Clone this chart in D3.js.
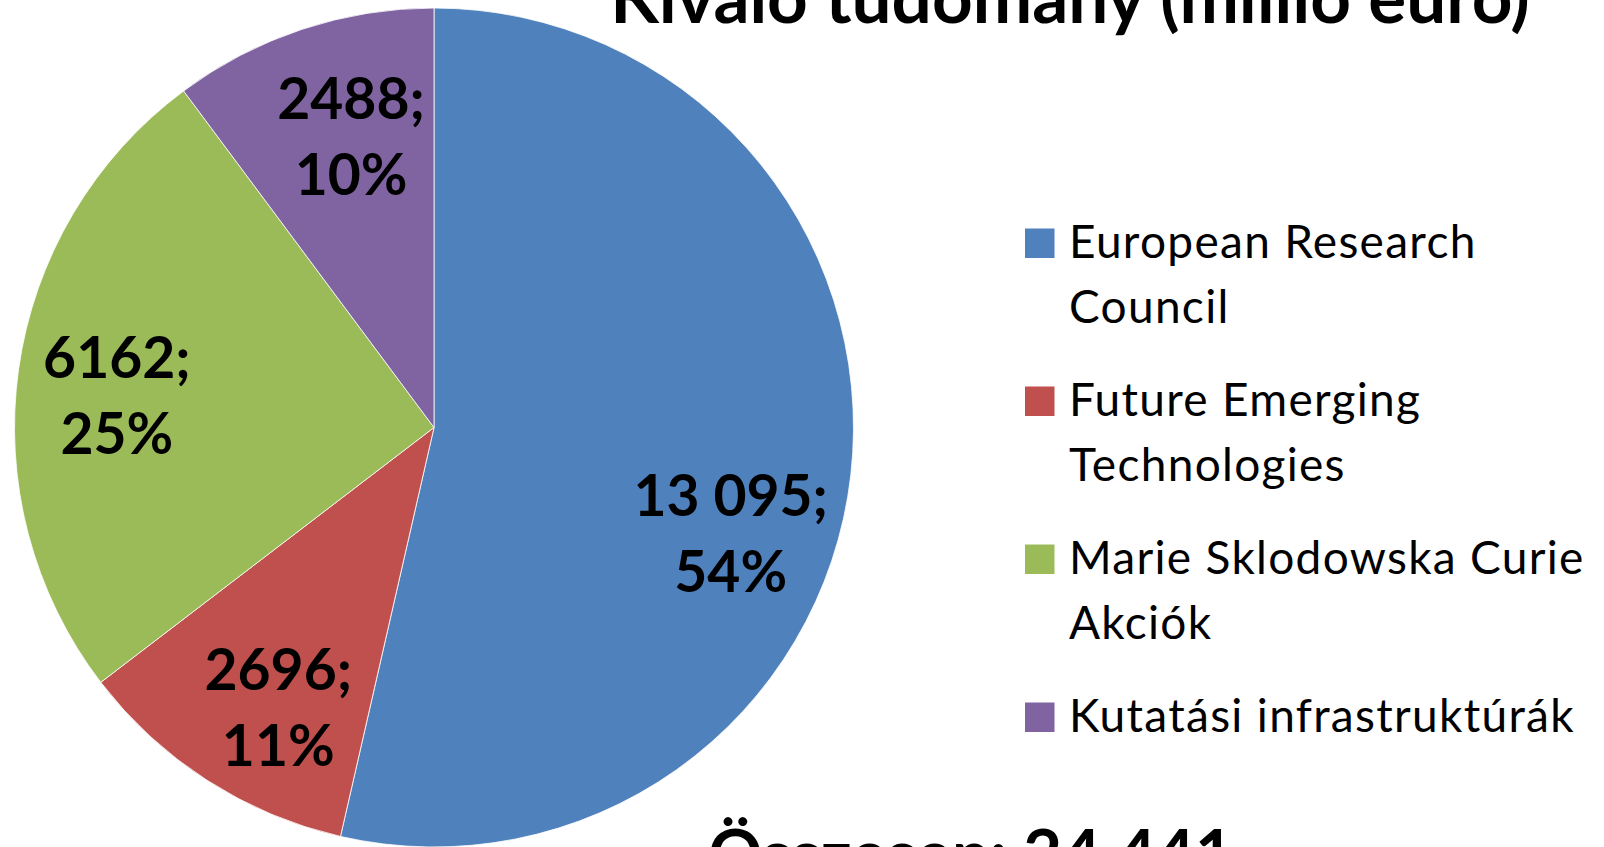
<!DOCTYPE html>
<html lang="hu">
<head>
    <meta charset="UTF-8">
    <script src="https://d3js.org/d3.v7.min.js"></script>
    <title>Kiváló tudomány</title>
    <style>
        body { margin:0; background:#fff; }
        text { font-family: Lato, "Open Sans", sans-serif; fill:#000; }
        .lbl { font-weight:bold; font-size:57px; }
        .leg { font-size:46px; letter-spacing:1.3px; }
    </style>
</head>
<body>
    <script>
        // adatok
        var title = "Kiváló tudomány (millió euró)";
        var categories = ["European Research Council", "Future Emerging Technologies",
                          "Marie Sklodowska Curie Akciók", "Kutatási infrastruktúrák"];
        var values = [13095, 2696, 6162, 2488];
        var colors = ["#4F81BD", "#C0504D", "#9BBB59", "#8064A2"];
        var totalLabel = "Összesen: ";

        var width = 1604, height = 847;
        var cx = 434, cy = 427.5, radius = 419.5;
        // small angle tweaks (degrees) so labels sit like Excel's best fit
        var labelNudge = [13, -3.5, -2, 2.5];
        var labelR = [0.75, 0.76, 0.76, 0.725];

        var total = d3.sum(values);
        var fmt = function(v){ return v >= 10000 ? d3.format(",")(v).replace(/,/g, " ") : String(v); };

        var svg = d3.select("body").append("svg").attr("width", width).attr("height", height);

        var pie = d3.pie().sort(null).value(d => d)(values);
        var arc = d3.arc().innerRadius(0).outerRadius(radius);

        var g = svg.append("g").attr("transform", "translate(" + cx + "," + cy + ")");
        g.selectAll("path").data(pie).enter().append("path")
            .attr("d", arc)
            .attr("fill", (d, i) => colors[i])
            .attr("stroke", "#fff").attr("stroke-width", 0.8);

        var lbl = g.selectAll("text.lbl").data(pie).enter().append("text")
            .attr("class", "lbl")
            .attr("text-anchor", "middle")
            .attr("transform", function(d, i){
                var a = (d.startAngle + d.endAngle) / 2 + labelNudge[i] * Math.PI / 180;
                var r = radius * labelR[i];
                return "translate(" + (Math.sin(a) * r) + "," + (-Math.cos(a) * r) + ")";
            });
        lbl.append("tspan").attr("x", 0).attr("y", -16).text(d => fmt(d.value) + ";");
        lbl.append("tspan").attr("x", 0).attr("y", 60).text(d => Math.round(d.value / total * 100) + "%");

        // cím
        svg.append("text").attr("x", 1070).attr("y", 23).attr("text-anchor", "middle")
            .style("font-weight", "bold").style("font-size", "71px").text(title);

        // jelmagyarázat
        var leg = svg.append("g").attr("transform", "translate(1025,0)");
        var maxW = 540;
        categories.forEach(function(c, i){
            var base = 258 + i * 158;
            leg.append("rect").attr("x", 0).attr("y", base - 29.5).attr("width", 29.5).attr("height", 29.5)
                .attr("fill", colors[i]);
            var t = leg.append("text").attr("class", "leg");
            var words = c.split(" "), line = [], ln = 0;
            var ts = t.append("tspan").attr("x", 44).attr("y", base);
            words.forEach(function(w){
                line.push(w);
                ts.text(line.join(" "));
                if (ts.node().getComputedTextLength() > maxW && line.length > 1) {
                    line.pop();
                    ts.text(line.join(" "));
                    line = [w];
                    ln++;
                    ts = t.append("tspan").attr("x", 44).attr("y", base + ln * 64.5).text(w);
                }
            });
        });

        // összesen
        var tot = svg.append("text").attr("x", 971).attr("y", 878).attr("text-anchor", "middle")
            .style("font-weight", "bold").style("font-size", "67px");
        tot.append("tspan").text(totalLabel);
        tot.append("tspan").text(fmt(total));
    </script>
</body>
</html>
